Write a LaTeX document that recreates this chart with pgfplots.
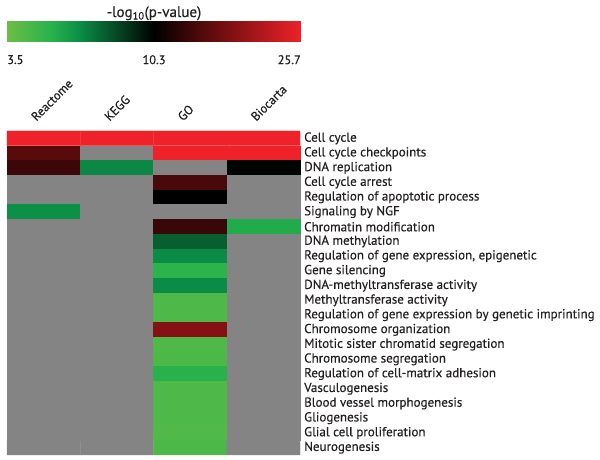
\documentclass[border=0pt]{standalone}
\usepackage{pgfplots}
\pgfplotsset{compat=1.18}
\usepackage{pgfplotstable}
\usepackage{fontspec}
\setmainfont{PT Sans}[FakeBold=0.4]
\definecolor{txt}{HTML}{231F20}
\pgfplotsset{
  colormap={heat}{rgb255(0cm)=(132,132,132); rgb255(3.45cm)=(132,132,132); rgb255(3.5cm)=(108,190,69); rgb255(5.54cm)=(40,178,75); rgb255(6.9cm)=(10,140,70); rgb255(10.3cm)=(0,0,0); rgb255(16.46cm)=(100,12,14); rgb255(25.7cm)=(238,34,40)},
  colormap={bar}{rgb255(0cm)=(108,190,69); rgb255(15cm)=(40,178,75); rgb255(25cm)=(10,140,70); rgb255(50cm)=(0,0,0); rgb255(70cm)=(100,12,14); rgb255(100cm)=(238,34,40)}
}
% x: 0 Reactome, 1 KEGG, 2 GO, 3 Biocarta; y: row index; v: -log10(p), 0 = not significant (grey)
\pgfplotstableread{
x y v
0 0 25.7
1 0 25.7
2 0 25.7
3 0 25.7
0 1 15.8
1 1 0
2 1 25.7
3 1 25.7
0 2 14.0
1 2 7.0
2 2 0
3 2 10.2
0 3 0
1 3 0
2 3 14.8
3 3 0
0 4 0
1 4 0
2 4 10.3
3 4 0
0 5 6.8
1 5 0
2 5 0
3 5 0
0 6 0
1 6 0
2 6 13.9
3 6 5.8
0 7 0
1 7 0
2 7 8.0
3 7 0
0 8 0
1 8 0
2 8 6.9
3 8 0
0 9 0
1 9 0
2 9 5.4
3 9 0
0 10 0
1 10 0
2 10 6.9
3 10 0
0 11 0
1 11 0
2 11 4.4
3 11 0
0 12 0
1 12 0
2 12 4.4
3 12 0
0 13 0
1 13 0
2 13 18.7
3 13 0
0 14 0
1 14 0
2 14 4.4
3 14 0
0 15 0
1 15 0
2 15 4.5
3 15 0
0 16 0
1 16 0
2 16 5.5
3 16 0
0 17 0
1 17 0
2 17 4.4
3 17 0
0 18 0
1 18 0
2 18 4.4
3 18 0
0 19 0
1 19 0
2 19 4.4
3 19 0
0 20 0
1 20 0
2 20 4.3
3 20 0
0 21 0
1 21 0
2 21 4.5
3 21 0
}\heatdata
\begin{document}
\begin{tikzpicture}[x=1pt,y=1pt]
\useasboundingbox (0,0) rectangle (600,460);
\begin{axis}[
  at={(7pt,329pt)}, anchor=north west, scale only axis,
  width=293pt, height=324pt,
  xmin=-0.5, xmax=3.5, ymin=-0.5, ymax=21.5, y dir=reverse,
  enlargelimits=false,
  axis line style={draw=none}, major tick length=0pt,
  colormap name=heat, point meta min=0, point meta max=25.7,
  xtick=\empty,
  ytick={0,...,21},
  yticklabels={Cell cycle,Cell cycle checkpoints,DNA replication,Cell cycle arrest,Regulation of apoptotic process,Signaling by NGF,Chromatin modification,DNA methylation,{Regulation of gene expression, epigenetic},Gene silencing,DNA-methyltransferase activity,Methyltransferase activity,Regulation of gene expression by genetic imprinting,Chromosome organization,Mitotic sister chromatid segregation,Chromosome segregation,Regulation of cell-matrix adhesion,Vasculogenesis,Blood vessel morphogenesis,Gliogenesis,Glial cell proliferation,Neurogenesis},
  yticklabel pos=right,
  yticklabel style={anchor=west, xshift=3pt, inner sep=1pt, font=\fontsize{13}{14}\selectfont, text=txt},
  clip=false,
]
\addplot[matrix plot*, mesh/cols=4, point meta=explicit] table[x=x, y=y, meta=v] {\heatdata};
\foreach \i/\lab in {0/Reactome,1/KEGG,2/GO,3/Biocarta}{
  \edef\temp{\noexpand\node[xshift=-7pt, yshift=9pt, rotate=45, anchor=south west, inner sep=0pt, text=txt, font=\noexpand\fontsize{12.5}{13}\noexpand\selectfont] at (axis cs:\i,-0.5) {\lab};}
  \temp
}
\end{axis}
\begin{axis}[
  at={(7pt,439pt)}, anchor=north west, scale only axis,
  width=294pt, height=21pt,
  xmin=0, xmax=1, ymin=0, ymax=1, hide axis,
  view={0}{90}, colormap name=bar, point meta min=0, point meta max=1,
  clip=false,
]
\addplot3[surf, shader=interp, mesh/rows=2, point meta=x] coordinates {
(0,0,0) (0.1,0,0) (0.2,0,0) (0.3,0,0) (0.4,0,0) (0.5,0,0) (0.6,0,0) (0.7,0,0) (0.8,0,0) (0.9,0,0) (1,0,0)

(0,1,0) (0.1,1,0) (0.2,1,0) (0.3,1,0) (0.4,1,0) (0.5,1,0) (0.6,1,0) (0.7,1,0) (0.8,1,0) (0.9,1,0) (1,1,0)
};
\node[anchor=north west, text=txt, font=\fontsize{12.5}{13}\selectfont, inner sep=0pt] at (axis cs:0,0) [yshift=-13pt] {3.5};
\node[anchor=north, text=txt, font=\fontsize{12.5}{13}\selectfont, inner sep=0pt] at (axis cs:0.5,0) [yshift=-13pt] {10.3};
\node[anchor=north east, text=txt, font=\fontsize{12.5}{13}\selectfont, inner sep=0pt] at (axis cs:1,0) [yshift=-13pt] {25.7};
\node[anchor=base, text=txt, font=\fontsize{15}{16}\selectfont, inner sep=0pt] at (axis cs:0.5,1) [yshift=4pt] {-log\textsubscript{10}(p-value)};
\end{axis}
\end{tikzpicture}
\end{document}
